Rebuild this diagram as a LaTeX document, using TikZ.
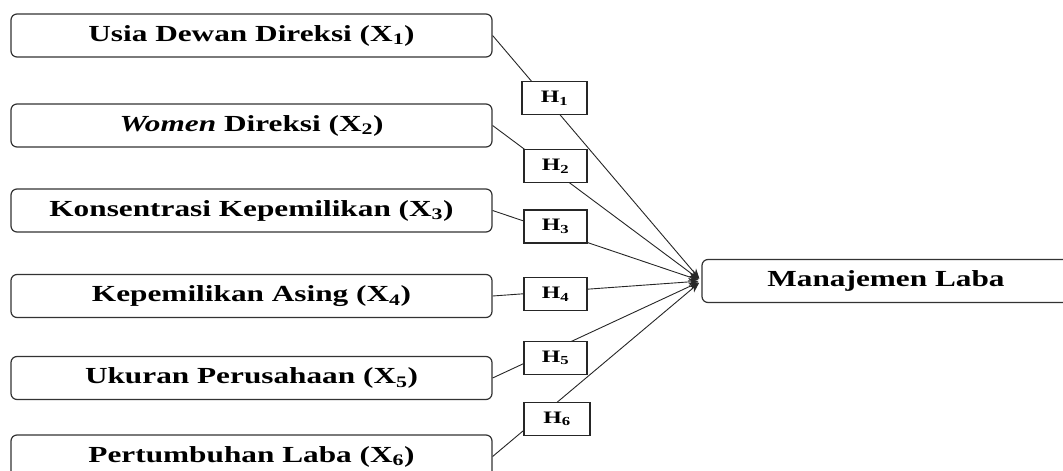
\documentclass[tikz,border=0pt]{standalone}
\usepackage{fontspec}
\setmainfont{Liberation Serif}[FakeStretch=1.36]
\usetikzlibrary{arrows.meta}
\tikzset{
  varbox/.style={draw=black!80, line width=1.2pt, rounded corners=6pt, fill=white,
    minimum width=481pt, minimum height=43pt, inner sep=0pt,
    font=\fontsize{23}{26}\selectfont\bfseries},
  hbox/.style={draw=black!85, line width=1.1pt, fill=white,
    minimum width=63pt, minimum height=33pt, inner sep=0pt,
    font=\fontsize{17.5}{20}\selectfont\bfseries},
  link/.style={draw=black!85, line width=0.9pt, -{Stealth[length=10pt,width=8pt]}, shorten >=3pt}
}
\begin{document}
\begin{tikzpicture}[x=1pt,y=-1pt]
\useasboundingbox (0,0) rectangle (1063,471);
\clip (0,0) rectangle (1063,471);
\node[varbox] (x1) at (251.5,35.5) {Usia Dewan Direksi (X\textsubscript{1})};
\node[varbox] (x2) at (251.5,125.5) {\textit{Women} Direksi (X\textsubscript{2})};
\node[varbox] (x3) at (251.5,210.5) {Konsentrasi Kepemilikan (X\textsubscript{3})};
\node[varbox] (x4) at (251.5,296) {Kepemilikan Asing (X\textsubscript{4})};
\node[varbox] (x5) at (251.5,378) {Ukuran Perusahaan (X\textsubscript{5})};
\node[varbox] (x6) at (251.5,456.5) {Pertumbuhan Laba (X\textsubscript{6})};
\node[varbox, minimum width=368pt] (ml) at (886,281) {Manajemen Laba};
\foreach \i in {1,...,6} {\draw[link] (x\i.east) -- (ml.west);}
\node[hbox, minimum width=65pt] (h1) at (554.5,98) {H\textsubscript{1}};
\node[hbox] (h2) at (555.5,166) {H\textsubscript{2}};
\node[hbox] (h3) at (555.5,226.5) {H\textsubscript{3}};
\node[hbox] (h4) at (555.5,294) {H\textsubscript{4}};
\node[hbox] (h5) at (555.5,358) {H\textsubscript{5}};
\node[hbox, minimum width=66pt] (h6) at (557,419) {H\textsubscript{6}};
\end{tikzpicture}
\end{document}
